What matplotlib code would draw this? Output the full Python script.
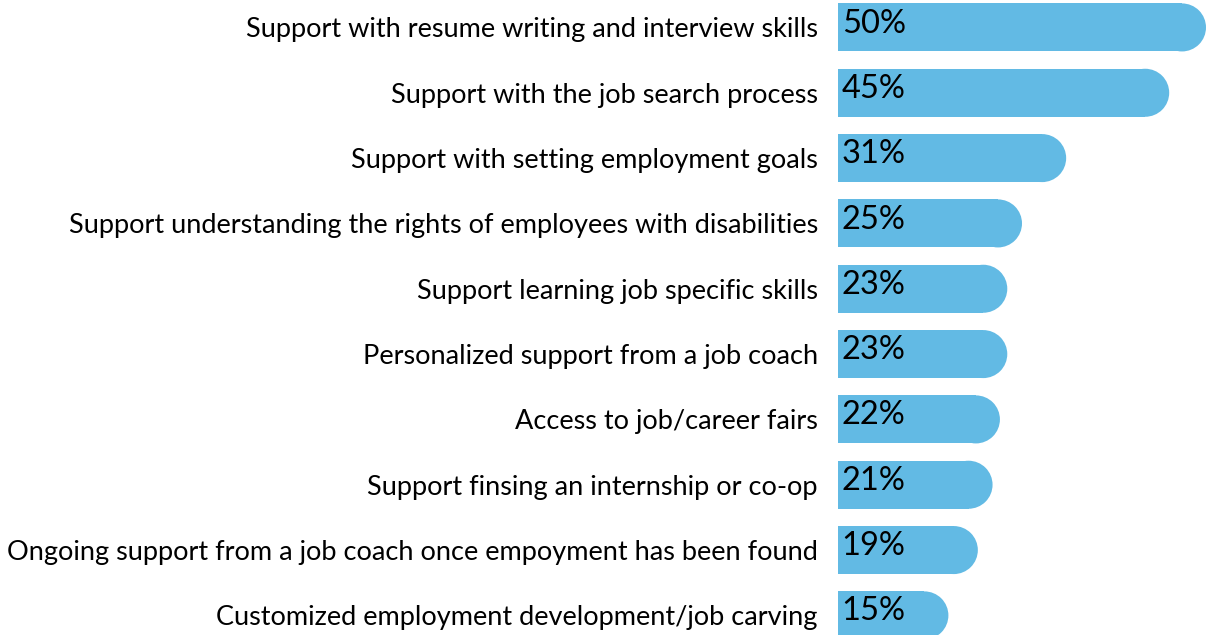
import matplotlib.pyplot as plt
from matplotlib.patches import Ellipse

# Share of respondents for each type of employment support
categories = [
    "Support with resume writing and interview skills",
    "Support with the job search process",
    "Support with setting employment goals",
    "Support understanding the rights of employees with disabilities",
    "Support learning job specific skills",
    "Personalized support from a job coach",
    "Access to job/career fairs",
    "Support finsing an internship or co-op",
    "Ongoing support from a job coach once empoyment has been found",
    "Customized employment development/job carving",
]
values = [50, 45, 31, 25, 23, 23, 22, 21, 19, 15]

BAR_COLOR = "#62BAE4"
plt.rcParams["font.family"] = ["Lato", "DejaVu Sans"]

W, H = 1206, 635
fig = plt.figure(figsize=(W / 100, H / 100), dpi=100)
ax = fig.add_axes([838 / W, 0, (W - 838) / W, 1])

ax.set_xlim(0, 50)
ax.set_ylim(9.30, -0.42)

bar_h = 0.735
# end-cap radius in data units (half the bar height in pixels)
px_per_x = (W - 838) / 50
px_per_y = H / (9.30 + 0.42)
r = bar_h * px_per_y / 2 / px_per_x

ys = list(range(len(values)))
for y, v in zip(ys, values):
    ax.barh(y, v - r, height=bar_h, left=0, color=BAR_COLOR, linewidth=0)
    ax.add_patch(Ellipse((v - r, y), 2 * r, bar_h, color=BAR_COLOR, linewidth=0))
    ax.text(0.5, y - 0.06, f"{v}%", ha="left", va="center", fontsize=23.5, color="black")

ax.set_yticks(ys)
ax.set_yticklabels(categories, fontsize=19.5, color="black")
ax.tick_params(axis="y", length=0, pad=14.5)
ax.set_xticks([])
for s in ax.spines.values():
    s.set_visible(False)

fig.savefig("out.png", dpi=100)
